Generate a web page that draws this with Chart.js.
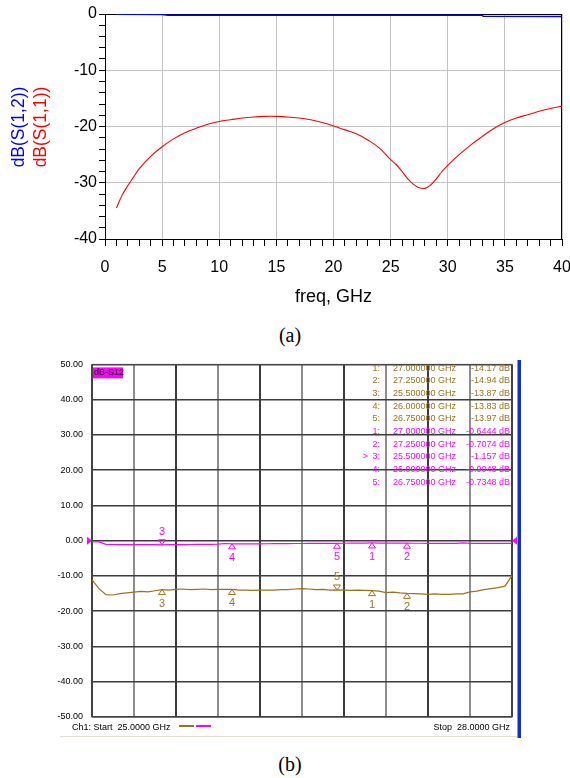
<!DOCTYPE html>
<html lang="en">
<head>
<meta charset="UTF-8">
<title>S-parameters</title>
<script src="https://cdn.jsdelivr.net/npm/chart.js"></script>
<style>
  body { margin: 0; background: #fff; width: 570px; height: 778px; position: relative; overflow: hidden; }
  .box { position: absolute; left: 0; width: 570px; }
  #boxA { top: 0; height: 320px; }
  #boxB { top: 350px; height: 400px; }
  .cap { position: absolute; left: 0; width: 580px; text-align: center; font-family: "Liberation Serif"; font-size: 20px; color: #000; }
</style>
</head>
<body>
<div class="box" id="boxA"><canvas id="chartA"></canvas></div>
<div class="cap" style="top:324px">(a)</div>
<div class="box" id="boxB"><canvas id="chartB"></canvas></div>
<div class="cap" style="top:753px">(b)</div>

<script>
// ---- (a) simulated, 0-40 GHz ----
const simFreq = [1, 1.5, 2, 2.5, 3, 4, 5, 6, 7, 8, 9, 10, 11, 12, 13, 14, 15, 16, 17, 18, 19, 20,
  21, 22, 23, 24, 25, 25.5, 26, 26.5, 27, 27.5, 28, 28.5, 29, 29.5, 30, 31, 32, 33, 34, 35, 36, 37, 38, 39, 40];
const simS11 = [-34.5, -32.2, -30.5, -29.0, -27.5, -25.3, -23.6, -22.2, -21.1, -20.3, -19.6, -19.1, -18.8, -18.5, -18.3, -18.2, -18.2, -18.3, -18.5, -18.8, -19.3, -19.9,
  -20.6, -21.3, -22.4, -23.8, -25.9, -26.8, -28.0, -29.3, -30.3, -30.9, -31.0, -30.4, -29.3, -28.0, -26.9, -25.0, -23.3, -21.8, -20.4, -19.3, -18.5, -17.9, -17.3, -16.8, -16.4];
const simFreqS12 = [1, 5, 5.5, 10, 15, 20, 25, 30, 33, 33.1, 40];
const simS12 = [-0.05, -0.08, -0.22, -0.22, -0.24, -0.22, -0.24, -0.22, -0.22, -0.42, -0.44];
const yTitles = ['dB(S(1,2))', 'dB(S(1,1))'];

// ---- (b) measured, 25-28 GHz ----
const sweepStart = 25, sweepStop = 28;
const measFreq = [25.00, 25.05, 25.10, 25.15, 25.20, 25.25, 25.30, 25.35, 25.40, 25.45,
  25.50, 25.55, 25.60, 25.65, 25.70, 25.75, 25.80, 25.85, 25.90, 25.95,
  26.00, 26.05, 26.10, 26.15, 26.20, 26.25, 26.30, 26.35, 26.40, 26.45,
  26.50, 26.55, 26.60, 26.65, 26.70, 26.75, 26.80, 26.85, 26.90, 26.95,
  27.00, 27.05, 27.10, 27.15, 27.20, 27.25, 27.30, 27.35, 27.40, 27.45,
  27.50, 27.55, 27.60, 27.65, 27.70, 27.75, 27.80, 27.85, 27.90, 27.95, 28.00];
const measS11 = [-11.1, -13.6, -15.3, -15.4, -15.0, -14.8, -14.6, -14.4, -14.5, -14.2,
  -13.9, -14.0, -13.8, -13.7, -13.9, -13.8, -13.7, -13.9, -13.8, -13.8,
  -13.83, -14.0, -14.0, -14.1, -14.0, -14.0, -14.0, -13.9, -13.9, -13.7,
  -13.6, -13.7, -13.9, -13.8, -14.0, -13.97, -14.0, -14.1, -14.0, -14.1,
  -14.17, -14.3, -14.7, -14.6, -14.8, -14.94, -15.0, -15.1, -15.2, -15.1,
  -15.2, -15.2, -15.1, -15.1, -14.5, -14.3, -13.9, -13.6, -13.3, -12.9, -9.9];
const measS12 = [-0.30, -0.32, -1.05, -1.08, -1.10, -1.10, -1.12, -1.12, -1.13, -1.14,
  -1.157, -1.14, -1.12, -1.10, -1.08, -1.06, -1.04, -1.02, -0.98, -0.80,
  -0.905, -0.92, -0.90, -0.89, -0.88, -0.86, -0.85, -0.84, -0.82, -0.80,
  -0.79, -0.78, -0.77, -0.76, -0.75, -0.735, -0.72, -0.70, -0.68, -0.66,
  -0.644, -0.66, -0.68, -0.69, -0.70, -0.707, -0.72, -0.73, -0.74, -0.75,
  -0.76, -0.77, -0.78, -0.60, -0.78, -0.78, -0.77, -0.76, -0.76, -0.75, -0.75];
const markerFreqs = [27.0, 27.25, 25.5, 26.0, 26.75];
const markerS11 = [-14.17, -14.94, -13.87, -13.83, -13.97];
const markerS12 = [-0.6444, -0.7074, -1.157, -0.9048, -0.7348];

const brown = '#a0701c';
const magenta = '#ff00ff';
const sans = '"Liberation Sans", Arial, sans-serif';

function pts(xs, ys) {
  return xs.map((v, i) => ({ x: v, y: ys[i] }));
}

// frame + two coloured y titles for (a)
const frameA = {
  id: 'frameA',
  beforeDatasetsDraw(chart) {
    const { ctx, chartArea: a } = chart;
    ctx.save();
    ctx.strokeStyle = '#000';
    ctx.lineWidth = 1;
    ctx.strokeRect(a.left + 0.5, a.top + 0.5, a.right - a.left - 1, a.bottom - a.top);
    ctx.restore();
  },
  afterDraw(chart) {
    const ctx = chart.ctx;
    ctx.save();
    ctx.font = '17.5px ' + sans;
    ctx.textAlign = 'center';
    ctx.textBaseline = 'middle';
    [['#0000ff', 19], ['#ff0000', 41]].forEach((c, i) => {
      ctx.save();
      ctx.translate(c[1], 127);
      ctx.rotate(-Math.PI / 2);
      ctx.fillStyle = c[0];
      ctx.fillText(yTitles[i], 0, 0);
      ctx.restore();
    });
    ctx.restore();
  }
};

new Chart(document.getElementById('chartA'), {
  type: 'line',
  data: {
    datasets: [
      { data: pts(simFreq, simS11), borderColor: '#ff0000', borderWidth: 1.1, pointRadius: 0, tension: 0.4 },
      { data: pts(simFreqS12, simS12), borderColor: '#0000ff', borderWidth: 1.5, pointRadius: 0, tension: 0 }
    ]
  },
  options: {
    responsive: true,
    maintainAspectRatio: false,
    animation: false,
    layout: { padding: { left: 0, right: 8, top: 14, bottom: 0 } },
    plugins: { legend: { display: false }, tooltip: { enabled: false } },
    scales: {
      x: {
        type: 'linear', min: 0, max: 40,
        ticks: {
          stepSize: 1, autoSkip: false, maxRotation: 0, padding: 12, color: '#000',
          font: { family: sans, size: 16 },
          callback: v => (v % 5 === 0 ? v : '')
        },
        grid: {
          color: c => (c.tick && c.tick.value % 5 === 0 ? '#c4c4c4' : 'rgba(0,0,0,0)'),
          tickColor: '#000', tickLength: 7, lineWidth: 1
        },
        border: { color: '#000', width: 1 },
        title: {
          display: true, text: 'freq, GHz', color: '#000',
          font: { family: sans, size: 18 }, padding: { top: 0, bottom: 12 }
        },
        afterFit: s => { s.height = 81; s.paddingRight = 0; s.paddingLeft = 0; }
      },
      y: {
        min: -40, max: 0,
        ticks: {
          stepSize: 2, autoSkip: false, padding: 2, color: '#000',
          font: { family: sans, size: 16 },
          callback: v => (v % 10 === 0 ? v : '')
        },
        grid: {
          color: c => (c.tick && c.tick.value % 10 === 0 ? '#c4c4c4' : 'rgba(0,0,0,0)'),
          tickColor: '#000', tickLength: 6, lineWidth: 1
        },
        border: { color: '#000', width: 1 },
        afterFit: s => { s.width = 105; }
      }
    }
  },
  plugins: [frameA]
});

// analyzer screen decorations for (b)
function tri(ctx, px, py, up, color) {
  const d = up ? 5 : -5;
  ctx.beginPath();
  ctx.moveTo(px, py);
  ctx.lineTo(px - 3.5, py + d);
  ctx.lineTo(px + 3.5, py + d);
  ctx.closePath();
  ctx.strokeStyle = color;
  ctx.lineWidth = 1;
  ctx.stroke();
}

const screenB = {
  id: 'screenB',
  beforeDatasetsDraw(chart) {
    const { ctx, chartArea: a } = chart;
    ctx.save();
    ctx.strokeStyle = '#4a4a4a';
    ctx.lineWidth = 1;
    ctx.strokeRect(a.left, a.top, a.right - a.left, a.bottom - a.top);
    ctx.restore();
  },
  afterDraw(chart) {
    const { ctx, chartArea: a, scales: { x, y } } = chart;
    ctx.save();
    ctx.font = '9px ' + sans;
    ctx.textBaseline = 'middle';

    // trace label
    ctx.fillStyle = magenta;
    ctx.fillRect(a.left + 1, a.top + 3, 30, 11);
    ctx.fillStyle = '#000';
    ctx.textAlign = 'left';
    ctx.fillText('dB-S12', a.left + 2, a.top + 8.5);

    // marker table
    const rows = [];
    markerFreqs.forEach((f, i) => rows.push({ n: i + 1, f: f, v: markerS11[i], c: brown, act: false }));
    markerFreqs.forEach((f, i) => rows.push({ n: i + 1, f: f, v: markerS12[i], c: magenta, act: i === 2 }));
    rows.forEach((r, k) => {
      const yy = 18.3 + k * 12.67;
      ctx.fillStyle = r.c;
      ctx.textAlign = 'right';
      ctx.fillText(r.n + ':', 380, yy);
      if (r.act) ctx.fillText('>', 368, yy);
      ctx.textAlign = 'left';
      ctx.fillText(r.f.toFixed(6) + ' GHz', 393, yy);
      ctx.textAlign = 'right';
      ctx.fillText(r.v + ' dB', 510, yy);
    });

    // markers on the traces
    ctx.font = '11px ' + sans;
    ctx.textAlign = 'center';
    const traces = [[markerS11, brown, 4], [markerS12, magenta, 2]];
    traces.forEach(t => {
      markerFreqs.forEach((f, i) => {
        const px = x.getPixelForValue(f);
        const py = y.getPixelForValue(t[0][i]);
        const up = i !== t[2];
        tri(ctx, px, py, up, t[1]);
        ctx.fillStyle = t[1];
        ctx.fillText(String(i + 1), px, up ? py + 14 : py - 12.5);
      });
    });

    // reference level arrows
    const y0 = y.getPixelForValue(0);
    ctx.fillStyle = magenta;
    ctx.beginPath();
    ctx.moveTo(a.left - 5, y0 - 4); ctx.lineTo(a.left, y0); ctx.lineTo(a.left - 5, y0 + 4);
    ctx.closePath(); ctx.fill();
    ctx.beginPath();
    ctx.moveTo(a.right + 5, y0 - 4); ctx.lineTo(a.right, y0); ctx.lineTo(a.right + 5, y0 + 4);
    ctx.closePath(); ctx.fill();

    // footer
    ctx.font = '9px ' + sans;
    ctx.fillStyle = '#000';
    ctx.textAlign = 'left';
    ctx.fillText('Ch1: Start  ' + sweepStart.toFixed(4) + ' GHz', 72, 378);
    ctx.textAlign = 'right';
    ctx.fillText('Stop  ' + sweepStop.toFixed(4) + ' GHz', 510, 378);
    ctx.lineWidth = 2;
    ctx.strokeStyle = brown;
    ctx.beginPath(); ctx.moveTo(179, 376); ctx.lineTo(194, 376); ctx.stroke();
    ctx.strokeStyle = magenta;
    ctx.beginPath(); ctx.moveTo(196, 376); ctx.lineTo(211, 376); ctx.stroke();
    ctx.lineWidth = 1;
    ctx.strokeStyle = '#e2ddd0';
    ctx.beginPath(); ctx.moveTo(60, 386.5); ctx.lineTo(517, 386.5); ctx.stroke();

    // window edge
    ctx.fillStyle = '#1030c8';
    ctx.fillRect(518, 10, 3, 378);
    ctx.fillStyle = '#8098e8';
    ctx.fillRect(517, 10, 1, 378);
    ctx.restore();
  }
};

new Chart(document.getElementById('chartB'), {
  type: 'line',
  data: {
    datasets: [
      { data: pts(measFreq, measS11), borderColor: brown, borderWidth: 1.2, pointRadius: 0, tension: 0 },
      { data: pts(measFreq, measS12), borderColor: magenta, borderWidth: 1.2, pointRadius: 0, tension: 0 }
    ]
  },
  options: {
    responsive: true,
    maintainAspectRatio: false,
    animation: false,
    layout: { padding: { left: 0, right: 58, top: 11, bottom: 33 } },
    plugins: { legend: { display: false }, tooltip: { enabled: false } },
    scales: {
      x: {
        type: 'linear', min: sweepStart, max: sweepStop,
        ticks: { count: 11, display: false },
        grid: {
          color: c => (c.index % 2 === 0 ? '#3c3c3c' : '#8e8e8e'),
          lineWidth: 2, drawTicks: false
        },
        border: { display: false },
        afterFit: s => { s.height = 0; }
      },
      y: {
        min: -50, max: 50,
        ticks: {
          stepSize: 10, padding: 9, color: '#000',
          font: { family: sans, size: 9 },
          callback: v => v.toFixed(2)
        },
        grid: { color: '#3c3c3c', lineWidth: 1.5, drawTicks: false },
        border: { display: false },
        afterFit: s => { s.width = 92; }
      }
    }
  },
  plugins: [screenB]
});
</script>
</body>
</html>
